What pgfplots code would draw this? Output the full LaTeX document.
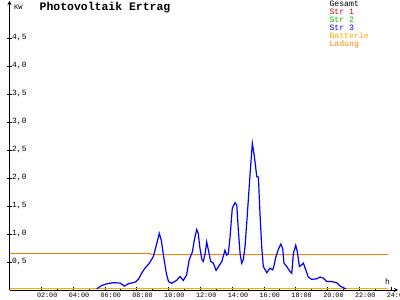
\documentclass[border=0pt]{standalone}
\usepackage{fontspec}
\setmainfont{Liberation Mono}
\usepackage{pgfplots}
\pgfplotsset{compat=1.18}
\usetikzlibrary{arrows.meta}
\definecolor{strone}{RGB}{200,0,0}
\definecolor{strtwo}{RGB}{0,190,0}
\definecolor{strthree}{RGB}{0,0,255}
\definecolor{batterie}{RGB}{255,170,0}
\definecolor{ladung}{RGB}{255,128,0}
\pgfplotstableread{
h v
5.48 0.02
5.8 0.08
6.11 0.11
6.53 0.13
6.95 0.125
7.22 0.07
7.47 0.11
7.9 0.14
8.1 0.19
8.31 0.30
8.52 0.39
8.8 0.48
9.05 0.60
9.26 0.83
9.42 1.01
9.55 0.88
9.68 0.62
9.86 0.30
10.0 0.15
10.2 0.12
10.5 0.17
10.72 0.24
10.93 0.17
11.14 0.27
11.3 0.54
11.5 0.68
11.62 0.89
11.77 1.08
11.87 1.01
11.98 0.74
12.1 0.54
12.19 0.51
12.3 0.65
12.4 0.86
12.53 0.68
12.65 0.51
12.82 0.48
12.99 0.35
13.13 0.41
13.35 0.51
13.55 0.71
13.66 0.62
13.76 0.65
13.87 0.95
14.01 1.46
14.18 1.56
14.29 1.52
14.39 1.07
14.5 0.65
14.6 0.48
14.7 0.54
14.81 0.77
14.96 1.37
15.13 2.08
15.27 2.62
15.4 2.38
15.55 2.02
15.65 2.02
15.75 1.37
15.86 0.77
15.96 0.42
16.18 0.31
16.38 0.39
16.55 0.36
16.62 0.42
16.74 0.58
16.9 0.72
17.06 0.82
17.18 0.74
17.26 0.48
17.43 0.42
17.64 0.33
17.75 0.30
17.85 0.65
18.0 0.80
18.1 0.68
18.23 0.42
18.38 0.45
18.48 0.48
18.63 0.36
18.79 0.23
19.0 0.19
19.32 0.20
19.53 0.23
19.74 0.21
19.95 0.15
20.26 0.15
20.58 0.13
20.79 0.07
21.0 0.04
21.16 0.02
}\strdrei
\begin{document}
\begin{tikzpicture}[x=1bp,y=1bp]
\useasboundingbox (0,0) rectangle (400,300);
\begin{axis}[
  at={(9.5bp,10bp)}, anchor=south west,
  scale only axis, width=388.5bp, height=289bp,
  xmin=0, xmax=24.43, ymin=0, ymax=5.16,
  axis lines=left,
  axis line style={line width=0.8bp, black, -{Stealth[length=4bp,width=4bp]}},
  xtick={2,4,...,24},
  xticklabels={02:00,04:00,06:00,08:00,10:00,12:00,14:00,16:00,18:00,20:00,22:00,24:00},
  minor x tick num=1,
  ytick={0.5,1,...,4.5},
  xtick align=inside, ytick align=center,
  major tick length=4bp, minor tick length=1.5bp,
  xtick style={/pgfplots/major tick length=2.5bp, black, line width=0.8bp},
  ytick style={black, line width=0.8bp},
  xticklabel style={font=\fontsize{6.8}{7}\selectfont, anchor=north west, inner sep=0pt, xshift=-4.5bp, yshift=-2.5bp},
  yticklabel style={font=\fontsize{8}{8}\selectfont, anchor=west, inner sep=0pt, xshift=4.5bp,
    /pgf/number format/.cd, fixed, fixed zerofill, precision=1, use comma, assume math mode=true},
]
\addplot[batterie, line width=1bp] coordinates {(0,0.018) (23.8,0.018)};
\addplot[ladung, line width=1.2bp] coordinates {(0,0.655) (8.85,0.655) (8.85,0.637) (23.8,0.637)};
\addplot[strthree, line width=1.2bp] table[x=h, y=v] {\strdrei};
\end{axis}
\node[anchor=base west, inner sep=0pt, font=\fontsize{7}{7}\selectfont] at (14,290.5) {KW};
\node[anchor=base west, inner sep=0pt, font=\fontsize{8}{8}\selectfont] at (385,16) {h};
\node[anchor=base west, inner sep=0pt, font=\bfseries\fontsize{11.5}{12}\selectfont] at (39.5,289.7) {Photovoltaik Ertrag};
\begin{scope}[every node/.style={anchor=base west, inner sep=0pt, font=\fontsize{8.2}{8}\selectfont}]
\node[black] at (329.3,293.2) {Gesamt};
\node[strone] at (329.3,285.2) {Str 1};
\node[strtwo] at (329.3,277.2) {Str 2};
\node[strthree] at (329.3,269.2) {Str 3};
\node[batterie] at (329.3,261.2) {Batterie};
\node[ladung] at (329.3,253.2) {Ladung};
\end{scope}
\end{tikzpicture}
\end{document}
